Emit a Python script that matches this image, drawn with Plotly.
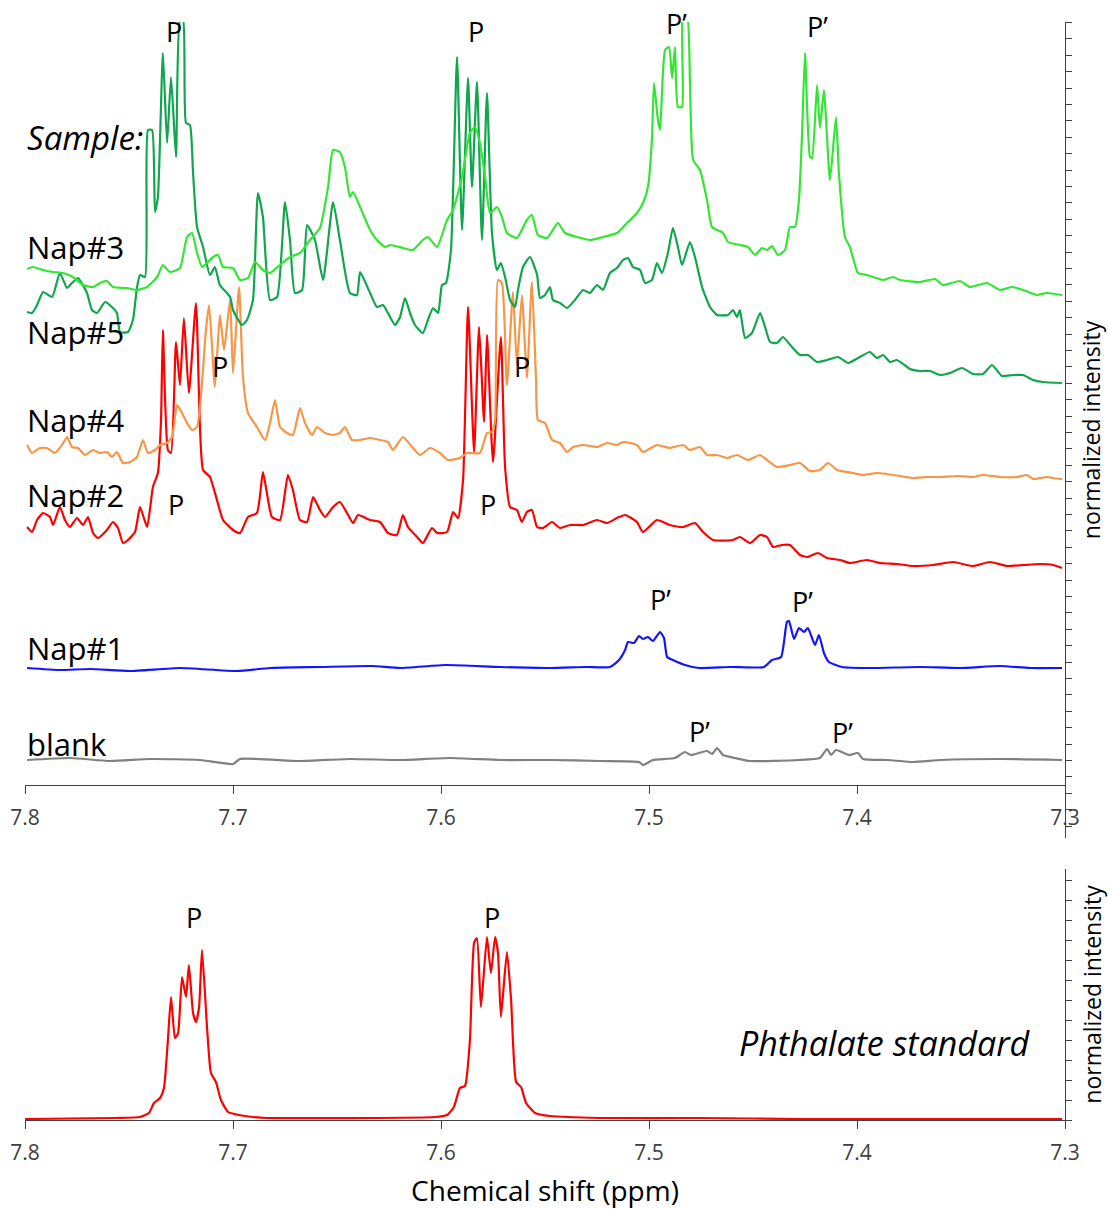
import plotly.graph_objects as go

W, H = 1108, 1209

# ---------------- data (chemical shift in ppm, stacked normalized intensity in a.u.) ----------------
NAP3_PPM = [7.7990, 7.7962, 7.7913, 7.7865, 7.7817, 7.7769, 7.7721, 7.7673, 7.7639, 7.7606,
            7.7577, 7.7510, 7.7462, 7.7413, 7.7365, 7.7337, 7.7303, 7.7255, 7.7221, 7.7197,
            7.7173, 7.7149, 7.7125, 7.7096, 7.7072, 7.7048, 7.7000, 7.6966, 7.6928, 7.6894,
            7.6856, 7.6822, 7.6774, 7.6726, 7.6678, 7.6630, 7.6582, 7.6543, 7.6519, 7.6486,
            7.6462, 7.6438, 7.6423, 7.6389, 7.6341, 7.6308, 7.6269, 7.6245, 7.6183, 7.6135,
            7.6087, 7.6063, 7.6019, 7.5971, 7.5942, 7.5899, 7.5861, 7.5837, 7.5813, 7.5788,
            7.5764, 7.5731, 7.5707, 7.5683, 7.5635, 7.5587, 7.5563, 7.5534, 7.5490, 7.5438,
            7.5404, 7.5346, 7.5284, 7.5221, 7.5154, 7.5106, 7.5058, 7.5029, 7.5005, 7.4986,
            7.4976, 7.4957, 7.4947, 7.4923, 7.4904, 7.4889, 7.4875, 7.4861, 7.4841, 7.4837,
            7.4817, 7.4803, 7.4788, 7.4755, 7.4721, 7.4697, 7.4644, 7.4620, 7.4563, 7.4524,
            7.4490, 7.4457, 7.4433, 7.4409, 7.4380, 7.4346, 7.4322, 7.4298, 7.4279, 7.4264,
            7.4250, 7.4226, 7.4216, 7.4192, 7.4178, 7.4159, 7.4130, 7.4101, 7.4087, 7.4058,
            7.4034, 7.3995, 7.3952, 7.3923, 7.3875, 7.3827, 7.3793, 7.3697, 7.3625, 7.3587,
            7.3505, 7.3457, 7.3375, 7.3313, 7.3255, 7.3202, 7.3135, 7.3087, 7.3014]
NAP3_INT = [516, 518, 515, 513, 512, 508, 500, 498, 502, 504,
            498, 497, 495, 498, 508, 520, 513, 517, 548, 552,
            532, 518, 522, 528, 530, 518, 517, 505, 507, 523,
            515, 512, 520, 528, 532, 545, 557, 598, 635, 633,
            618, 588, 593, 578, 555, 545, 538, 540, 537, 535,
            545, 548, 538, 565, 575, 608, 652, 658, 642, 608,
            572, 578, 568, 552, 547, 565, 570, 550, 547, 562,
            552, 548, 545, 548, 552, 562, 572, 582, 598, 645,
            702, 665, 655, 735, 738, 707, 738, 678, 678, 770,
            770, 702, 625, 615, 585, 558, 552, 543, 540, 538,
            530, 537, 535, 539, 530, 535, 558, 558, 585, 652,
            732, 628, 627, 700, 657, 695, 605, 668, 612, 548,
            538, 512, 510, 508, 505, 508, 505, 503, 506, 500,
            504, 498, 502, 495, 498, 495, 490, 492, 490]

NAP5_PPM = [7.7990, 7.7966, 7.7942, 7.7913, 7.7870, 7.7832, 7.7798, 7.7774, 7.7745, 7.7702,
            7.7678, 7.7654, 7.7615, 7.7582, 7.7558, 7.7543, 7.7505, 7.7481, 7.7462, 7.7447,
            7.7423, 7.7409, 7.7389, 7.7375, 7.7361, 7.7337, 7.7317, 7.7298, 7.7274, 7.7255,
            7.7240, 7.7226, 7.7207, 7.7192, 7.7173, 7.7144, 7.7111, 7.7087, 7.7063, 7.7014,
            7.7000, 7.6957, 7.6933, 7.6904, 7.6880, 7.6856, 7.6822, 7.6788, 7.6750, 7.6726,
            7.6702, 7.6668, 7.6644, 7.6606, 7.6567, 7.6519, 7.6486, 7.6438, 7.6404, 7.6389,
            7.6341, 7.6308, 7.6279, 7.6255, 7.6221, 7.6197, 7.6173, 7.6149, 7.6125, 7.6087,
            7.6063, 7.6038, 7.6014, 7.5995, 7.5976, 7.5952, 7.5923, 7.5899, 7.5870, 7.5851,
            7.5827, 7.5803, 7.5779, 7.5755, 7.5731, 7.5712, 7.5692, 7.5668, 7.5644, 7.5630,
            7.5606, 7.5572, 7.5538, 7.5524, 7.5500, 7.5476, 7.5462, 7.5428, 7.5394, 7.5356,
            7.5317, 7.5284, 7.5250, 7.5221, 7.5188, 7.5154, 7.5125, 7.5101, 7.5077, 7.5043,
            7.5019, 7.4986, 7.4962, 7.4938, 7.4909, 7.4885, 7.4861, 7.4841, 7.4803, 7.4779,
            7.4745, 7.4731, 7.4707, 7.4673, 7.4620, 7.4596, 7.4577, 7.4563, 7.4538, 7.4505,
            7.4466, 7.4442, 7.4418, 7.4385, 7.4356, 7.4313, 7.4274, 7.4236, 7.4192, 7.4144,
            7.4091, 7.4043, 7.3995, 7.3938, 7.3904, 7.3875, 7.3841, 7.3808, 7.3745, 7.3697,
            7.3649, 7.3601, 7.3553, 7.3495, 7.3442, 7.3394, 7.3351, 7.3303, 7.3250, 7.3202,
            7.3154, 7.3106, 7.3014]
NAP5_INT = [473, 472, 480, 493, 488, 512, 497, 502, 507, 492,
            475, 472, 483, 478, 472, 453, 453, 465, 497, 510,
            508, 655, 655, 573, 588, 732, 642, 708, 628, 765,
            765, 662, 660, 612, 558, 538, 510, 518, 500, 488,
            475, 460, 465, 485, 592, 568, 485, 488, 583, 545,
            492, 495, 560, 545, 505, 583, 545, 492, 490, 513,
            492, 478, 480, 472, 460, 468, 487, 472, 460, 452,
            465, 477, 472, 500, 502, 535, 728, 555, 707, 598,
            703, 545, 692, 552, 515, 522, 508, 485, 478, 495,
            518, 528, 510, 487, 490, 498, 485, 482, 477, 485,
            495, 492, 500, 495, 512, 517, 525, 527, 518, 515,
            502, 505, 522, 512, 532, 557, 538, 520, 543, 528,
            498, 490, 478, 470, 470, 475, 468, 475, 447, 452,
            472, 458, 443, 442, 448, 438, 430, 430, 423, 425,
            428, 422, 427, 433, 427, 430, 423, 425, 416, 414,
            414, 410, 412, 417, 411, 411, 420, 409, 410, 410,
            405, 403, 402]

NAP4_PPM = [7.7990, 7.7966, 7.7928, 7.7894, 7.7856, 7.7822, 7.7798, 7.7774, 7.7745, 7.7712,
            7.7673, 7.7639, 7.7606, 7.7582, 7.7558, 7.7529, 7.7495, 7.7462, 7.7433, 7.7409,
            7.7375, 7.7351, 7.7317, 7.7293, 7.7269, 7.7245, 7.7221, 7.7197, 7.7173, 7.7149,
            7.7130, 7.7115, 7.7087, 7.7063, 7.7043, 7.7014, 7.7000, 7.6971, 7.6952, 7.6928,
            7.6885, 7.6846, 7.6822, 7.6798, 7.6774, 7.6740, 7.6712, 7.6678, 7.6654, 7.6620,
            7.6596, 7.6558, 7.6519, 7.6486, 7.6462, 7.6428, 7.6389, 7.6341, 7.6293, 7.6255,
            7.6231, 7.6183, 7.6139, 7.6101, 7.6053, 7.6005, 7.5966, 7.5909, 7.5875, 7.5813,
            7.5779, 7.5755, 7.5740, 7.5726, 7.5707, 7.5683, 7.5654, 7.5635, 7.5611, 7.5587,
            7.5563, 7.5543, 7.5534, 7.5500, 7.5466, 7.5428, 7.5394, 7.5365, 7.5317, 7.5250,
            7.5202, 7.5154, 7.5125, 7.5058, 7.5029, 7.4962, 7.4899, 7.4837, 7.4803, 7.4755,
            7.4721, 7.4673, 7.4625, 7.4577, 7.4524, 7.4466, 7.4433, 7.4385, 7.4322, 7.4274,
            7.4226, 7.4178, 7.4139, 7.4096, 7.4019, 7.3971, 7.3904, 7.3856, 7.3793, 7.3731,
            7.3663, 7.3601, 7.3519, 7.3442, 7.3394, 7.3313, 7.3231, 7.3183, 7.3154, 7.3087,
            7.3058, 7.3014]
NAP4_INT = [340, 332, 337, 337, 332, 340, 348, 338, 337, 330,
            335, 332, 333, 328, 333, 322, 323, 328, 345, 332,
            335, 340, 342, 348, 380, 372, 362, 355, 358, 402,
            455, 480, 398, 470, 435, 485, 412, 498, 408, 372,
            358, 345, 362, 385, 358, 352, 350, 377, 362, 350,
            358, 352, 350, 352, 358, 345, 345, 347, 345, 343,
            335, 348, 338, 330, 337, 332, 325, 327, 332, 332,
            352, 353, 365, 505, 502, 400, 493, 420, 490, 407,
            503, 405, 365, 362, 345, 342, 333, 338, 340, 338,
            342, 340, 343, 340, 333, 340, 337, 340, 335, 338,
            330, 330, 327, 330, 325, 330, 325, 318, 320, 322,
            314, 315, 322, 315, 312, 310, 312, 311, 309, 307,
            308, 308, 309, 308, 310, 308, 308, 310, 306, 308,
            307, 306]

NAP2_PPM = [7.7990, 7.7966, 7.7942, 7.7913, 7.7880, 7.7865, 7.7832, 7.7808, 7.7784, 7.7750,
            7.7721, 7.7697, 7.7673, 7.7649, 7.7606, 7.7577, 7.7553, 7.7529, 7.7505, 7.7471,
            7.7447, 7.7413, 7.7385, 7.7361, 7.7346, 7.7337, 7.7313, 7.7298, 7.7274, 7.7255,
            7.7236, 7.7212, 7.7178, 7.7159, 7.7144, 7.7111, 7.7077, 7.7048, 7.7000, 7.6966,
            7.6928, 7.6885, 7.6856, 7.6837, 7.6813, 7.6774, 7.6736, 7.6712, 7.6678, 7.6644,
            7.6615, 7.6582, 7.6558, 7.6519, 7.6486, 7.6452, 7.6423, 7.6399, 7.6341, 7.6293,
            7.6255, 7.6212, 7.6183, 7.6159, 7.6115, 7.6087, 7.6043, 7.6019, 7.5971, 7.5942,
            7.5918, 7.5894, 7.5870, 7.5841, 7.5817, 7.5793, 7.5779, 7.5750, 7.5712, 7.5692,
            7.5668, 7.5635, 7.5611, 7.5587, 7.5563, 7.5538, 7.5510, 7.5466, 7.5428, 7.5380,
            7.5317, 7.5250, 7.5202, 7.5154, 7.5115, 7.5058, 7.5029, 7.4962, 7.4899, 7.4837,
            7.4779, 7.4740, 7.4692, 7.4596, 7.4563, 7.4514, 7.4466, 7.4433, 7.4404, 7.4361,
            7.4322, 7.4274, 7.4240, 7.4188, 7.4144, 7.4082, 7.4034, 7.3952, 7.3889, 7.3808,
            7.3731, 7.3635, 7.3538, 7.3442, 7.3361, 7.3279, 7.3202, 7.3120, 7.3058, 7.3014]
NAP2_INT = [258, 253, 265, 272, 268, 260, 278, 265, 258, 267,
            260, 268, 252, 247, 255, 263, 257, 242, 245, 253,
            278, 258, 298, 312, 365, 455, 335, 332, 443, 400,
            467, 392, 482, 358, 315, 308, 285, 265, 255, 252,
            268, 272, 313, 292, 268, 265, 310, 295, 265, 263,
            288, 275, 268, 278, 283, 272, 262, 270, 265, 263,
            252, 250, 270, 258, 248, 242, 257, 252, 253, 273,
            267, 305, 478, 333, 458, 363, 450, 323, 448, 318,
            278, 275, 263, 273, 275, 258, 257, 263, 257, 260,
            260, 265, 262, 267, 270, 263, 253, 265, 260, 258,
            262, 253, 245, 245, 248, 242, 250, 248, 238, 240,
            240, 230, 228, 232, 227, 225, 222, 225, 222, 221,
            219, 220, 223, 219, 223, 219, 220, 221, 220, 217]

NAP1_PPM = [7.7990, 7.7832, 7.7688, 7.7495, 7.7255, 7.6981, 7.6822, 7.6582, 7.6332, 7.6197,
            7.5976, 7.5716, 7.5476, 7.5303, 7.5188, 7.5144, 7.5115, 7.5101, 7.5072, 7.5048,
            7.5029, 7.5005, 7.4981, 7.4947, 7.4928, 7.4913, 7.4885, 7.4827, 7.4760, 7.4611,
            7.4447, 7.4409, 7.4365, 7.4337, 7.4327, 7.4303, 7.4279, 7.4255, 7.4236, 7.4202,
            7.4183, 7.4159, 7.4135, 7.4072, 7.3938, 7.3697, 7.3505, 7.3313, 7.3168, 7.3014]
NAP1_INT = [117, 115, 116, 114, 117, 114, 117, 118, 119, 117,
            120, 118, 117, 118, 118, 125, 135, 143, 142, 149,
            146, 148, 144, 153, 147, 128, 125, 120, 117, 118,
            118, 125, 128, 163, 164, 146, 157, 153, 157, 140,
            150, 132, 123, 118, 117, 118, 117, 119, 117, 117]

BLANK_PPM = [7.7990, 7.7784, 7.7591, 7.7399, 7.7159, 7.7000, 7.6966, 7.6678, 7.6438, 7.6197,
             7.5957, 7.5716, 7.5476, 7.5236, 7.5048, 7.5029, 7.4981, 7.4875, 7.4827, 7.4798,
             7.4760, 7.4721, 7.4697, 7.4673, 7.4644, 7.4587, 7.4519, 7.4279, 7.4178, 7.4144,
             7.4125, 7.4101, 7.4063, 7.4038, 7.3995, 7.3971, 7.3851, 7.3731, 7.3596, 7.3313,
             7.3014]
BLANK_INT = [25, 27, 24, 26, 25, 21, 26, 24, 26, 25,
             27, 25, 25, 24, 23, 20, 25, 27, 33, 30,
             32, 34, 31, 37, 30, 27, 24, 25, 27, 36,
             30, 35, 32, 30, 32, 26, 25, 23, 25, 26,
             25]

STD_PPM = [7.8000, 7.7563, 7.7447, 7.7404, 7.7380, 7.7351, 7.7332, 7.7313, 7.7298, 7.7279,
           7.7264, 7.7245, 7.7226, 7.7212, 7.7192, 7.7178, 7.7163, 7.7149, 7.7125, 7.7106,
           7.7082, 7.7058, 7.7024, 7.6971, 7.6904, 7.6837, 7.6029, 7.5971, 7.5938, 7.5909,
           7.5885, 7.5861, 7.5841, 7.5827, 7.5808, 7.5779, 7.5760, 7.5740, 7.5726, 7.5712,
           7.5683, 7.5663, 7.5639, 7.5615, 7.5591, 7.5548, 7.5476, 7.5236, 7.4755, 7.4274,
           7.3014]
STD_INT = [1, 2, 3, 7, 17, 22, 32, 80, 123, 82,
           87, 143, 123, 155, 107, 98, 113, 170, 93, 47,
           38, 20, 8, 5, 3, 2, 3, 5, 13, 32,
           34, 80, 177, 182, 113, 183, 147, 183, 167, 103,
           168, 120, 38, 33, 17, 7, 4, 2, 2, 1,
           1]

X_TICKS = [7.8, 7.7, 7.6, 7.5, 7.4, 7.3]
X_TICK_TEXT = ["7.8", "7.7", "7.6", "7.5", "7.4", "7.3"]

SAMPLE_LABELS = ["Nap#3", "Nap#5", "Nap#4", "Nap#2", "Nap#1", "blank"]
SAMPLE_LABEL_Y = [538, 453, 365, 290, 137, 41]

PEAK_TEXT = ["P", "P", "P\u2019", "P\u2019", "P", "P", "P", "P", "P\u2019", "P\u2019", "P\u2019", "P\u2019"]
PEAK_X = [7.7284, 7.5832, 7.4870, 7.4188, 7.7063, 7.5611, 7.7274, 7.5774, 7.4947, 7.4264, 7.4755, 7.4072]
PEAK_Y = [753, 753, 761, 758, 418, 418, 280, 280, 185, 183, 53, 52]

STD_PEAK_TEXT = ["P", "P"]
STD_PEAK_X = [7.7188, 7.5755]
STD_PEAK_Y = [203, 203]

# ---------------- figure ----------------
FONT = "Open Sans"
AX = "#404040"

fig = go.Figure()

def add(ppm, inten, color, xa="x", ya="y"):
    fig.add_trace(go.Scatter(x=ppm, y=inten, mode="lines", xaxis=xa, yaxis=ya,
                             line=dict(color=color, width=2.2, shape="spline", smoothing=0.5),
                             showlegend=False, hoverinfo="skip"))

add(BLANK_PPM, BLANK_INT, "#808080")
add(NAP1_PPM, NAP1_INT, "#1414FF")
add(NAP2_PPM, NAP2_INT, "#FF0000")
add(NAP4_PPM, NAP4_INT, "#F79646")
add(NAP5_PPM, NAP5_INT, "#0FA64E")
add(NAP3_PPM, NAP3_INT, "#33E633")
add(STD_PPM, STD_INT, "#FF0000", "x2", "y2")

common_x = dict(range=[7.8, 7.3], domain=[25 / W, 1065 / W], tickvals=X_TICKS,
                ticktext=X_TICK_TEXT, ticks="outside", ticklen=8, tickwidth=1.3,
                tickcolor=AX, showline=True, linecolor=AX, linewidth=1.3,
                showgrid=False, zeroline=False, automargin=False,
                ticklabelstandoff=6,
                tickfont=dict(family=FONT, size=21, color="#404040"))
common_y = dict(side="right", showline=True, linecolor=AX, linewidth=1.3,
                ticks="outside", ticklen=6, tickwidth=1.3, tickcolor=AX,
                showticklabels=False, showgrid=False, zeroline=False, automargin=False)

fig.update_layout(
    width=W, height=H, margin=dict(l=0, r=0, t=0, b=0),
    plot_bgcolor="white", paper_bgcolor="white", showlegend=False,
    xaxis=dict(**common_x, anchor="free", position=(H - 785) / H),
    yaxis=dict(**common_y, anchor="x", domain=[(H - 838) / H, (H - 22) / H],
               range=[-53, 763], tick0=-8.3, dtick=16.4,
               title=dict(text="normalized intensity", standoff=12,
                          font=dict(family=FONT, size=23, color="black"))),
    xaxis2=dict(**common_x, anchor="y2",
                title=dict(text="Chemical shift (ppm)", standoff=16,
                           font=dict(family=FONT, size=28, color="black"))),
    yaxis2=dict(**common_y, anchor="x2", domain=[(H - 1120) / H, (H - 869) / H],
                range=[0, 251], tick0=0, dtick=20,
                title=dict(text="normalized intensity", standoff=27,
                           font=dict(family=FONT, size=23, color="black"))),
)

ann = []
ann.append(dict(x=7.8, y=647, xref="x", yref="y", text="<i>Sample:</i>", showarrow=False,
                xanchor="left", yanchor="middle", font=dict(family=FONT, size=33, color="black")))
for t, yv in zip(SAMPLE_LABELS, SAMPLE_LABEL_Y):
    ann.append(dict(x=7.8, y=yv, xref="x", yref="y", text=t, showarrow=False,
                    xanchor="left", yanchor="middle", font=dict(family=FONT, size=31, color="black")))
for t, xv, yv in zip(PEAK_TEXT, PEAK_X, PEAK_Y):
    ann.append(dict(x=xv, y=yv, xref="x", yref="y", text=t, showarrow=False,
                    xanchor="center", yanchor="middle", font=dict(family=FONT, size=27, color="black")))
for t, xv, yv in zip(STD_PEAK_TEXT, STD_PEAK_X, STD_PEAK_Y):
    ann.append(dict(x=xv, y=yv, xref="x2", yref="y2", text=t, showarrow=False,
                    xanchor="center", yanchor="middle", font=dict(family=FONT, size=27, color="black")))
ann.append(dict(x=7.3865, y=77, xref="x2", yref="y2", text="<i>Phthalate standard</i>",
                showarrow=False, xanchor="center", yanchor="middle",
                font=dict(family=FONT, size=34, color="black")))
fig.update_layout(annotations=ann)

fig.write_html("out.html")
